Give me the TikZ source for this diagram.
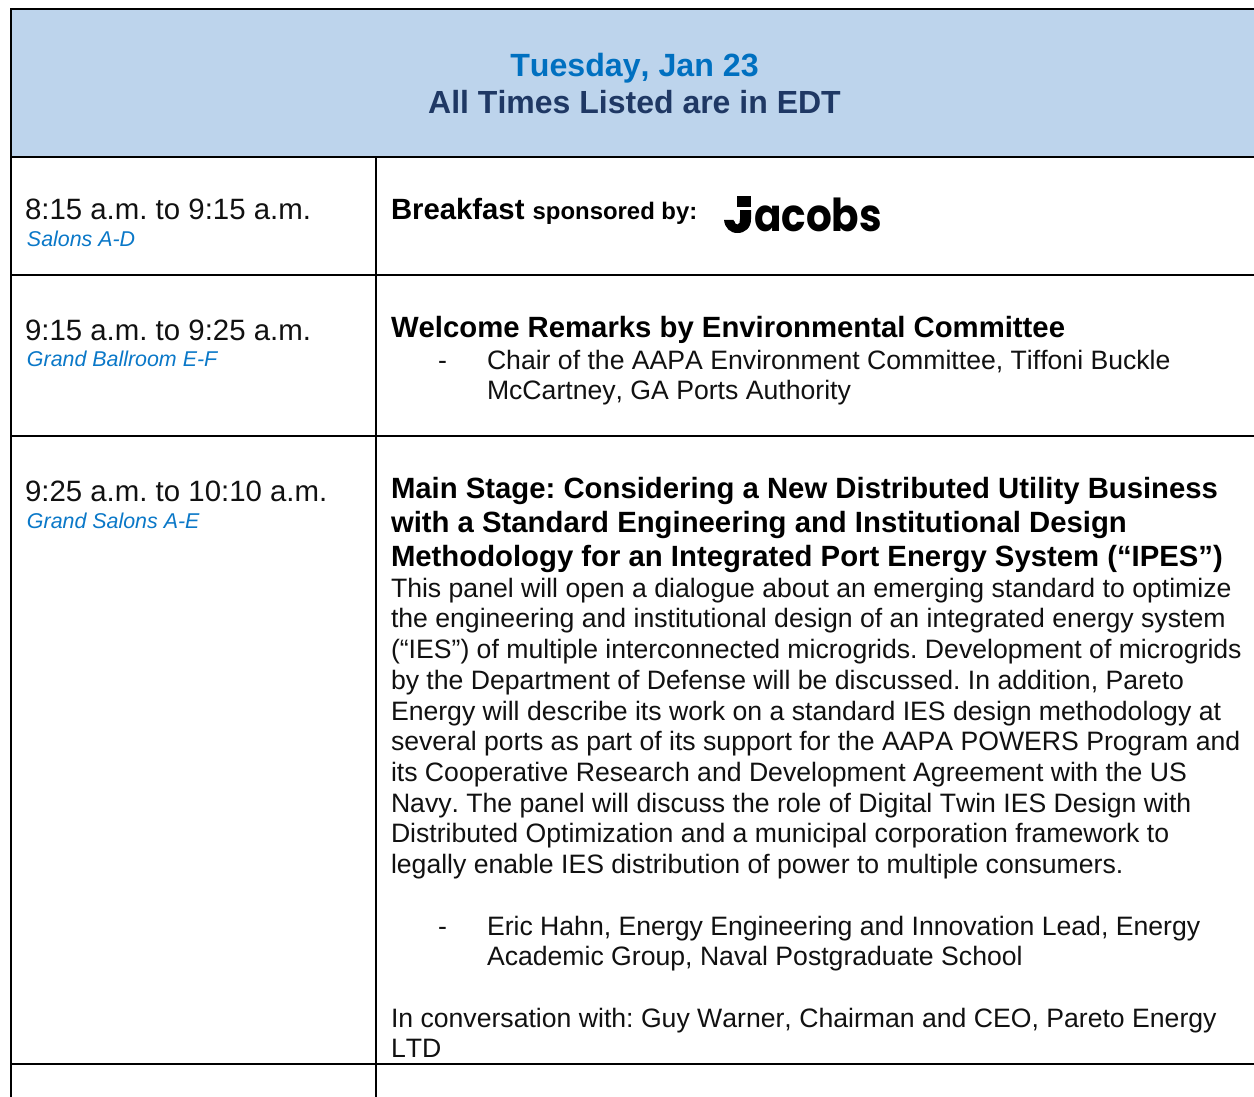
\documentclass[tikz,border=0pt]{standalone}
\usepackage{fontspec}
\setmainfont[Kerning=Off]{Liberation Sans}
\newfontfamily\logofont{Poppins}
\frenchspacing
\definecolor{headfill}{HTML}{BDD4EC}
\definecolor{titleblue}{HTML}{0070C0}
\definecolor{titlenavy}{HTML}{1F3864}
\definecolor{roomblue}{HTML}{0A78C8}
\definecolor{inktext}{HTML}{111111}
\tikzset{
 x=1pt,y=-1pt,
 rule/.style={draw=black,line width=2.2pt,line cap=rect},
 txt/.style={anchor=base west,inner sep=0pt,outer sep=0pt,text=inktext},
 body/.style={txt,font=\fontsize{26.62}{30}\selectfont},
 headl/.style={txt,font=\fontsize{29.3}{34}\selectfont\bfseries,text=black},
 timel/.style={txt,font=\fontsize{29.4}{34}\selectfont},
 room/.style={txt,text=roomblue,font=\fontsize{21.4}{26}\selectfont\itshape},
 title/.style={anchor=base,inner sep=0pt,font=\bfseries},
 logotext/.style={inner sep=0pt,outer sep=0pt,text=black,font=\fontsize{40.5}{50}\logofont\bfseries},
}
\begin{document}
\begin{tikzpicture}
\useasboundingbox (0,0) rectangle (1254,1097);
\fill[white] (0,0) rectangle (1254,1097);
\fill[headfill] (11,9) rectangle (1254,157);
\draw[rule] (1254,9) -- (11,9) -- (11,1097);
\draw[rule] (11,157) -- (1254,157);
\draw[rule] (11,275) -- (1254,275);
\draw[rule] (11,436) -- (1254,436);
\draw[rule] (11,1064) -- (1254,1064);
\draw[rule] (376,157) -- (376,1097);
\node[title,text=titleblue,font=\fontsize{32.15}{38}\selectfont\bfseries] (t1) at (634.5,77) {Tuesday, Jan 23};
\node[title,text=titlenavy,font=\fontsize{32}{38}\selectfont\bfseries] (t2) at (634.5,114) {All Times Listed are in EDT};
\node[timel] (a1) at (25,219) {8:15 a.m. to 9:15 a.m.};
\node[room] (a2) at (27,246) {Salons A-D};
\node[timel] (b1) at (25,340) {9:15 a.m. to 9:25 a.m.};
\node[room] (b2) at (27,366) {Grand Ballroom E-F};
\node[timel] (c1) at (25,501) {9:25 a.m. to 10:10 a.m.};
\node[room] (c2) at (27,528) {Grand Salons A-E};
\node[headl] (d1) at (391,219) {Breakfast \fontsize{23.9}{28}\selectfont sponsored by:};
% logo
\node[logotext,anchor=base east] (logoj) at (751,231) {J};
\node[logotext,anchor=base west] (logo) at (754,231) {\scalebox{1}[1.12]{acobs}};
\fill[black] (740,210) -- (751,210) -- (751,219) .. controls (751,228) and (745,233) .. (737.5,233) .. controls (730,233) and (725,228) .. (724,220) -- (733.5,220) .. controls (734,223) and (735.5,224.5) .. (737.5,224.5) .. controls (739.5,224.5) and (740,222) .. (740,219) -- cycle;
\fill[white] (722,207) rectangle (753,210);
\fill[white] (722,195) rectangle (737,210);
\fill[black] (737,196) rectangle (751,207);
\node[headl] (e1) at (391,337) {Welcome Remarks by Environmental Committee};
\node[body] (e0) at (438,369) {-};
\node[body] (e2) at (487,369) {Chair of the AAPA Environment Committee, Tiffoni Buckle};
\node[body] (e3) at (487,399.6) {McCartney, GA Ports Authority};
\node[headl] (f1) at (391,498) {Main Stage: Considering a New Distributed Utility Business};
\node[headl] (f2) at (391,532) {with a Standard Engineering and Institutional Design};
\node[headl] (f3) at (391,566) {Methodology for an Integrated Port Energy System (“IPES”)};
\node[body] (g1) at (391,597) {This panel will open a dialogue about an emerging standard to optimize};
\node[body] (g2) at (391,627) {the engineering and institutional design of an integrated energy system};
\node[body] (g3) at (391,658) {(“IES”) of multiple interconnected microgrids. Development of microgrids};
\node[body] (g4) at (391,689) {by the Department of Defense will be discussed. In addition, Pareto};
\node[body] (g5) at (391,720) {Energy will describe its work on a standard IES design methodology at};
\node[body] (g6) at (391,750) {several ports as part of its support for the AAPA POWERS Program and};
\node[body] (g7) at (391,781) {its Cooperative Research and Development Agreement with the US};
\node[body] (g8) at (391,812) {Navy. The panel will discuss the role of Digital Twin IES Design with};
\node[body] (g9) at (391,842) {Distributed Optimization and a municipal corporation framework to};
\node[body] (g10) at (391,873) {legally enable IES distribution of power to multiple consumers.};
\node[body] (h0) at (438,935) {-};
\node[body] (h1) at (487,935) {Eric Hahn, Energy Engineering and Innovation Lead, Energy};
\node[body] (h2) at (487,965) {Academic Group, Naval Postgraduate School};
\node[body] (i1) at (391,1027) {In conversation with: Guy Warner, Chairman and CEO, Pareto Energy};
\node[body] (i2) at (391,1057) {LTD};
\end{tikzpicture}
\end{document}
